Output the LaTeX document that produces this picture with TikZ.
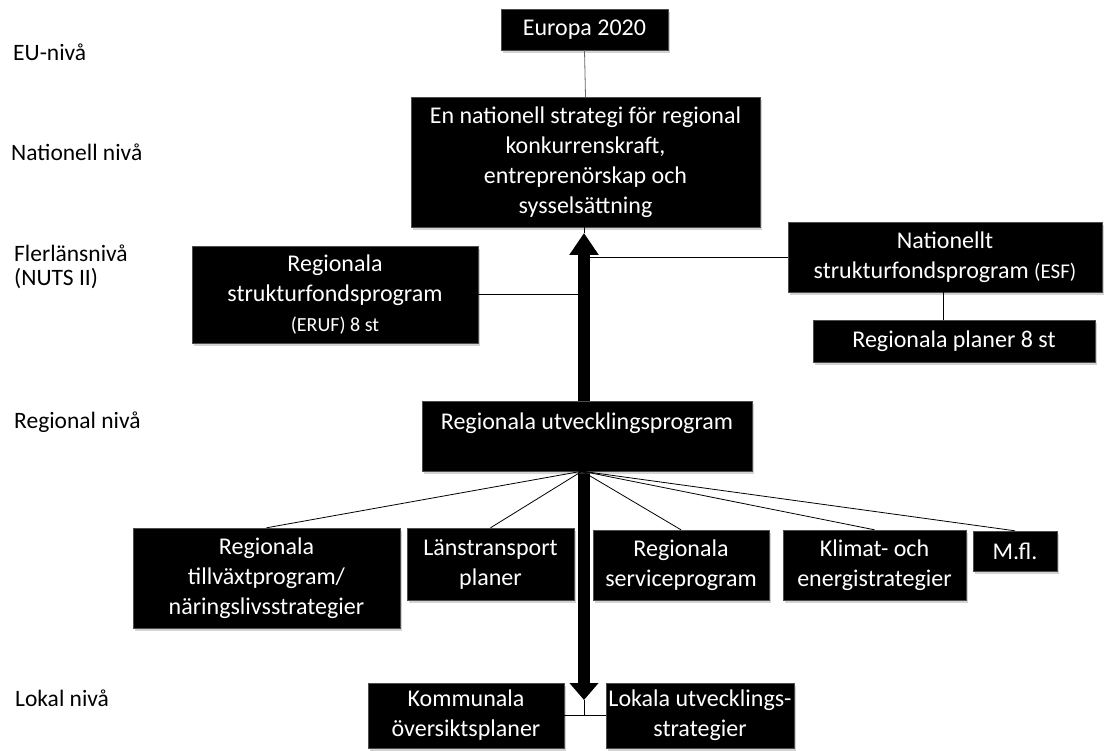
\documentclass[tikz,border=0pt]{standalone}
\usepackage{fontspec}
\setmainfont{Carlito}
\usetikzlibrary{arrows.meta,shadows}

\begin{document}
\begin{tikzpicture}[x=1pt, y=-1pt,
box/.style = {shape=rectangle, fill=black, draw=black!70, text=white,
	align=center, inner sep=0pt, font=\fontsize{24}{30}\selectfont,
	drop shadow={opacity=0.35, shadow xshift=2pt, shadow yshift=-3pt}},
lvl/.style = {anchor=west, inner sep=0pt, align=left,
	font=\fontsize{23.5}{24}\selectfont},
link/.style = {draw, line width=0.8pt}]
\useasboundingbox (0,0) rectangle (1105,751);
% level labels
\node[lvl] (leu) at (13,52) {EU-nivå};
\node[lvl] (lnat) at (11,152) {Nationell nivå};
\node[lvl] (lfler) at (14,267) {Flerlänsnivå\\(NUTS II)};
\node[lvl] (lreg) at (14,422) {Regional nivå};
\node[lvl] (llok) at (15,698) {Lokal nivå};
% the long arrow
\coordinate (atop) at (584,233);
\coordinate (abot) at (584,700);
\draw[line width=12pt, {Triangle[width=28pt,length=22pt]}-{Triangle[width=28pt,length=17pt]}] (atop) -- (abot);
% boxes
\node[box, minimum width=167pt, minimum height=41pt] (eu) at (584.5,29.5) {Europa 2020};
\node[box, minimum width=349pt, minimum height=130pt] (nat) at (585.5,162)
	{En nationell strategi för regional\\konkurrenskraft,\\entreprenörskap och\\sysselsättning};
\node[box, minimum width=286pt, minimum height=97pt] (rsf) at (335,294.5)
	{Regionala\\strukturfondsprogram\\{\fontsize{20}{24}\selectfont(ERUF) 8 st}};
\node[box, minimum width=314pt, minimum height=70pt] (nsf) at (945,257)
	{Nationellt\\strukturfondsprogram {\fontsize{21}{24}\selectfont(ESF)}};
\node[box, minimum width=282pt, minimum height=42pt] (rpl) at (954,341) {Regionala planer 8 st};
\node[box, minimum width=330pt, minimum height=70pt] (ru) at (587,436)
	{Regionala utvecklingsprogram\\~};
\node[box, minimum width=267pt, minimum height=100pt] (tv) at (266.5,578)
	{Regionala\\tillväxtprogram/\\näringslivsstrategier};
\node[box, minimum width=167pt, minimum height=72pt] (lt) at (490.5,564) {Länstransport\\planer};
\node[box, minimum width=176pt, minimum height=70pt] (sp) at (681,565) {Regionala\\serviceprogram};
\node[box, minimum width=183pt, minimum height=70pt] (kl) at (874.5,565) {Klimat- och\\energistrategier};
\node[box, minimum width=84pt, minimum height=40pt] (mf) at (1015,551) {M.fl.};
\node[box, minimum width=196pt, minimum height=65pt] (ko) at (466,715.5) {Kommunala\\översiktsplaner};
\node[box, minimum width=188pt, minimum height=65pt] (lo) at (700,715.5) {Lokala utvecklings-\\strategier};
% connectors
\draw[link, black!60] (eu.south) -- (nat.north);
\draw[link] (nat.south -| atop) -- (atop);
\draw[link] (rsf.east) -- (rsf.east -| atop);
\draw[link] (nsf.west) -- (nsf.west -| atop);
\draw[link] (nsf.south -| 943,0) -- (rpl.north -| 943,0);
\foreach \n in {tv,lt,sp,kl,mf}
	\draw[link] ([xshift=-5pt]ru.south) -- (\n.north);
\draw[link] (ko.east) -- (lo.west);
\draw[link] (abot) -- (abot |- ko.east);
\end{tikzpicture}
\end{document}
